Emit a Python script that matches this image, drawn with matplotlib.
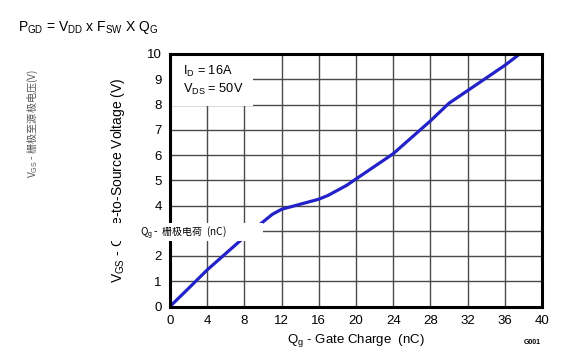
import matplotlib
matplotlib.use('Agg')
import matplotlib.pyplot as plt
from matplotlib.patches import Rectangle

plt.rcParams['font.family'] = ['Liberation Sans', 'DejaVu Sans']
plt.rcParams['mathtext.fontset'] = 'custom'
plt.rcParams['mathtext.rm'] = 'Liberation Sans'
plt.rcParams['mathtext.it'] = 'Liberation Sans:italic'

# gate charge curve
qg = [0, 2, 4, 6, 8, 9, 10, 11, 12, 13, 14, 16, 17, 18, 19, 20, 22, 24, 26, 28, 30, 32, 34, 36, 37.6]
vgs = [0, 0.72, 1.45, 2.1, 2.75, 3.05, 3.35, 3.65, 3.85, 3.95, 4.05, 4.25, 4.4, 4.6, 4.8, 5.05, 5.55, 6.05, 6.7, 7.35, 8.05, 8.55, 9.05, 9.55, 10.0]

xticks = [0, 4, 8, 12, 16, 20, 24, 28, 32, 36, 40]
yticks = [0, 1, 2, 3, 4, 5, 6, 7, 8, 9, 10]

W, H = 563, 356
fig = plt.figure(figsize=(W / 100, H / 100), dpi=100)
ax = fig.add_axes([170 / W, 1 - 306.5 / H, 372 / W, 252.5 / H])

ax.plot(qg, vgs, color='#2222c8', lw=2.3, solid_capstyle='round', zorder=3)
ax.set_xlim(0, 40)
ax.set_ylim(0, 10)
ax.set_xticks(xticks)
ax.set_yticks(yticks)
ax.grid(True, color='#4a4a4a', lw=1.0)
ax.tick_params(length=0, labelsize=9.5, pad=6)
for s in ax.spines.values():
    s.set_linewidth(2.2)
    s.set_zorder(5)

ax.set_xlabel('Q$_\\mathrm{g}$ - Gate Charge  (nC)', fontsize=9.5, labelpad=4)
ax.set_ylabel('V$_\\mathrm{GS}$ - Gate-to-Source Voltage (V)', fontsize=10, labelpad=14)

# white box with test conditions (hides the grid behind it)
ax.add_patch(Rectangle((0, 7.95), 8.9, 2.05, fc='white', ec='none', zorder=2.5))
ax.text(1.4, 8.95, 'I$_\\mathrm{D}$ = 16A\nV$_\\mathrm{DS}$ = 50V', fontsize=9.2, va='center',
        linespacing=1.3, zorder=4)

fig.text(18 / W, 1 - 27 / H, 'P$_\\mathrm{GD}$ = V$_\\mathrm{DD}$ x F$_\\mathrm{SW}$ X Q$_\\mathrm{G}$',
         fontsize=10, va='center')

fig.text(33 / W, 1 - 123 / H, 'V$_\\mathrm{GS}$ - 栅极至源极电压(V)', rotation=90, fontsize=7.3,
         color='#555555', va='center', ha='center',
         family=['Noto Sans CJK SC', 'Liberation Sans'])

# pasted translation box over the axis
fig.patches.append(Rectangle((106 / W, 1 - 241 / H), 157 / W, 18 / H, transform=fig.transFigure,
                             fc='white', ec='none', zorder=10))
fig.text(140 / W, 1 - 233 / H, 'Q$_\\mathrm{g}$ -  栅极电荷  (nC)', fontsize=7.2, va='center',
         zorder=11, family=['Noto Sans CJK SC', 'Liberation Sans'])

fig.text(541 / W, 1 - 343 / H, 'G001', fontsize=5, fontweight='bold', ha='right', va='center')

fig.savefig('out.png', dpi=100)
